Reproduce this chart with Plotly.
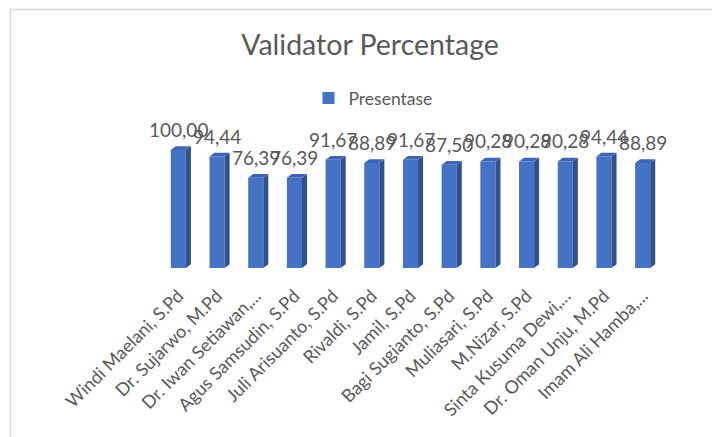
import plotly.graph_objects as go

names = ["Windi Maelani, S.Pd", "Dr. Sujarwo, M.Pd", "Dr. Iwan Setiawan,...",
         "Agus Samsudin, S.Pd", "Juli Arisuanto, S.Pd", "Rivaldi, S.Pd",
         "Jamil, S.Pd", "Bagi Sugianto, S.Pd", "Muliasari, S.Pd",
         "M.Nizar, S.Pd", "Sinta Kusuma Dewi,...", "Dr. Oman Unju, M.Pd",
         "Imam Ali Hamba,..."]
values = [100.00, 94.44, 76.39, 76.39, 91.67, 88.89, 91.67, 87.50,
          90.28, 90.28, 90.28, 94.44, 88.89]
series_name = "Presentase"
title_text = "Validator Percentage"

W, H = 720, 437
OFF = 8  # page body margin offset
PW, PH = 503, 138
L = 159 - OFF
T = 130 - OFF
R = W - L - PW
B = H - T - PH
FONT = "Lato, Calibri, Carlito, sans-serif"
GRAY = "#595959"
FRONT = "#4472C4"
SIDE = "#2F528F"
TOP = "#3C66B4"

bw = 0.39     # bar width (category units)
dx = 0.13     # depth offset in x
dy = 3.2      # depth offset in y (value units)

xs = list(range(len(values)))

side_x, side_y, top_x, top_y = [], [], [], []
for i, v in zip(xs, values):
    r = i + bw / 2
    side_x += [r, r + dx, r + dx, r, r, None]
    side_y += [0, dy, v + dy, v, 0, None]
    l = i - bw / 2
    top_x += [l, r, r + dx, l + dx, l, None]
    top_y += [v, v, v + dy, v + dy, v, None]

fig = go.Figure()
fig.add_trace(go.Bar(x=xs, y=values, width=bw, name=series_name,
                     marker=dict(color=FRONT, line=dict(width=0)),
                     showlegend=True))
fig.add_trace(go.Scatter(x=side_x, y=side_y, fill="toself", mode="lines",
                         fillcolor=SIDE, line=dict(width=0, color=SIDE),
                         showlegend=False, hoverinfo="skip"))
fig.add_trace(go.Scatter(x=top_x, y=top_y, fill="toself", mode="lines",
                         fillcolor=TOP, line=dict(width=0, color=TOP),
                         showlegend=False, hoverinfo="skip"))

for i, v in zip(xs, values):
    fig.add_annotation(x=i, y=v, yanchor="bottom", yshift=7,
                       text=f"{v:.2f}".replace(".", ","), showarrow=False,
                       font=dict(family=FONT, size=19, color=GRAY))

def px2paper_x(px):
    return (px - OFF - L) / PW
def px2paper_y(py):
    return (T + PH - (py - OFF)) / PH

fig.add_shape(type="rect", xref="paper", yref="paper",
              x0=px2paper_x(10.5), x1=px2paper_x(740), y0=px2paper_y(9.5), y1=px2paper_y(460),
              line=dict(color="#D9D9D9", width=1.5), fillcolor="rgba(0,0,0,0)", layer="below")

fig.update_layout(
    width=W, height=H,
    margin=dict(l=L, r=R, t=T, b=B, autoexpand=False),
    paper_bgcolor="white", plot_bgcolor="white",
    separators=",.",
    title=dict(text=title_text, x=(370 - OFF) / W, xanchor="center",
               y=1 - (45 - OFF) / H, yanchor="middle",
               xref="container", yref="container",
               font=dict(family=FONT, size=28.5, color=GRAY)),
    legend=dict(orientation="h", x=px2paper_x(373), xanchor="center",
                y=px2paper_y(98), yanchor="middle",
                font=dict(family=FONT, size=17.5, color=GRAY)),
    xaxis=dict(range=[-0.5, len(values) - 0.5], tickmode="array", tickvals=xs, ticktext=names,
               tickangle=-45, showgrid=False, zeroline=False, showline=False, ticks="",
               ticklabelstandoff=13, automargin=False,
               tickfont=dict(family=FONT, size=18, color=GRAY)),
    yaxis=dict(range=[0, PH / 1.18], visible=False, showgrid=False, zeroline=False,
               automargin=False),
)

fig.write_html("out.html")
